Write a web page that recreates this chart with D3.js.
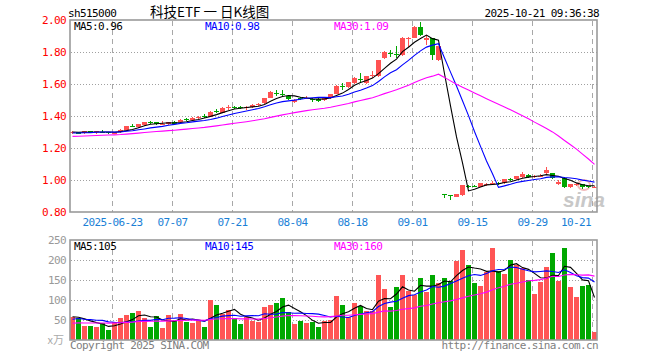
<!DOCTYPE html>
<html>
<head>
<meta charset="utf-8">
<script src="https://cdn.jsdelivr.net/npm/d3@7"></script>
<style>
body { margin: 0; background: #fff; }
svg { display: block; }
</style>
</head>
<body>
<svg id="chart" width="660" height="360"></svg>
<script>
// trading days shown on the chart (one candle each)
var days = [
	"2025-06-12","2025-06-13","2025-06-16","2025-06-17","2025-06-18","2025-06-19","2025-06-20","2025-06-23","2025-06-24","2025-06-25","2025-06-26","2025-06-27","2025-06-30",
	"2025-07-01","2025-07-02","2025-07-03","2025-07-04","2025-07-07","2025-07-08","2025-07-09","2025-07-10","2025-07-11","2025-07-14","2025-07-15","2025-07-16","2025-07-17","2025-07-18",
	"2025-07-21","2025-07-22","2025-07-23","2025-07-24","2025-07-25","2025-07-28","2025-07-29","2025-07-30","2025-07-31",
	"2025-08-01","2025-08-04","2025-08-05","2025-08-06","2025-08-07","2025-08-08","2025-08-11","2025-08-12","2025-08-13","2025-08-14","2025-08-15",
	"2025-08-18","2025-08-19","2025-08-20","2025-08-21","2025-08-22","2025-08-25","2025-08-26","2025-08-27","2025-08-28","2025-08-29",
	"2025-09-01","2025-09-02","2025-09-03","2025-09-04","2025-09-05","2025-09-08","2025-09-09","2025-09-10","2025-09-11","2025-09-12",
	"2025-09-15","2025-09-16","2025-09-17","2025-09-18","2025-09-19","2025-09-22","2025-09-23","2025-09-24","2025-09-25","2025-09-26","2025-09-29","2025-09-30",
	"2025-10-09","2025-10-10","2025-10-13","2025-10-14","2025-10-15","2025-10-16","2025-10-17","2025-10-20","2025-10-21"
];

var opens = [
	1.294,1.300,1.294,1.306,1.297,1.303,1.297,1.288,1.298,1.314,1.340,1.331,1.344,
	1.362,1.362,1.350,1.348,1.362,1.360,1.380,1.377,1.385,1.402,1.396,1.433,1.421,1.452,
	1.456,1.455,1.452,1.455,1.470,1.480,1.514,1.542,1.536,
	1.525,1.490,1.512,1.512,1.508,1.508,1.500,1.510,1.537,1.585,1.580,
	1.605,1.632,1.606,1.654,1.650,1.760,1.792,1.790,1.780,1.885,
	1.890,1.958,1.875,1.885,1.750,0.915,0.905,0.896,0.906,0.965,
	0.965,0.958,0.972,0.980,0.982,0.979,1.005,1.006,1.017,1.031,1.020,1.025,
	1.042,1.042,0.975,1.015,0.955,0.972,0.975,0.960,0.955
];
var highs = [
	1.306,1.302,1.308,1.308,1.308,1.312,1.300,1.300,1.316,1.340,1.348,1.350,1.365,
	1.367,1.365,1.366,1.365,1.366,1.381,1.385,1.392,1.398,1.410,1.430,1.444,1.455,1.467,
	1.460,1.462,1.462,1.472,1.482,1.513,1.555,1.562,1.560,
	1.530,1.505,1.520,1.522,1.512,1.510,1.512,1.540,1.592,1.604,1.612,
	1.642,1.667,1.652,1.680,1.752,1.805,1.810,1.835,1.892,1.892,
	1.960,1.990,1.905,1.888,1.840,0.915,0.906,0.915,0.970,0.970,
	0.968,0.980,0.980,0.995,0.990,1.008,1.015,1.027,1.047,1.035,1.030,1.035,
	1.082,1.045,1.003,1.020,0.978,0.980,0.978,0.965,0.960
];
var lows = [
	1.290,1.286,1.290,1.293,1.285,1.292,1.288,1.286,1.296,1.310,1.330,1.328,1.340,
	1.350,1.345,1.342,1.346,1.348,1.356,1.370,1.372,1.380,1.390,1.394,1.420,1.418,1.440,
	1.445,1.445,1.440,1.452,1.465,1.477,1.510,1.525,1.520,
	1.500,1.483,1.500,1.505,1.490,1.490,1.495,1.508,1.535,1.565,1.575,
	1.600,1.615,1.600,1.640,1.646,1.758,1.770,1.760,1.775,1.830,
	1.885,1.900,1.845,1.750,1.745,0.885,0.875,0.893,0.900,0.950,
	0.955,0.955,0.965,0.975,0.970,0.975,0.995,1.000,1.010,1.012,1.015,1.020,
	1.035,1.008,0.970,0.950,0.950,0.965,0.945,0.952,0.950
];
var closes = [
	1.302,1.290,1.306,1.296,1.306,1.301,1.293,1.298,1.314,1.337,1.337,1.348,1.362,
	1.360,1.352,1.353,1.362,1.352,1.378,1.377,1.390,1.395,1.400,1.427,1.431,1.452,1.455,
	1.453,1.452,1.456,1.470,1.474,1.510,1.552,1.540,1.534,
	1.504,1.500,1.510,1.515,1.505,1.496,1.510,1.537,1.590,1.582,1.610,
	1.640,1.628,1.650,1.657,1.750,1.802,1.789,1.780,1.890,1.888,
	1.958,1.906,1.885,1.780,1.838,0.912,0.903,0.912,0.969,0.962,
	0.962,0.979,0.975,0.983,0.980,1.006,1.003,1.025,1.040,1.017,1.024,1.028,
	1.060,1.012,0.990,0.958,0.975,0.975,0.955,0.958,0.958
];
// volume, in 万
var volumes = [
	58,56,35,35,33,42,25,44,56,62,68,73,54,
	33,60,31,62,47,65,46,43,49,33,100,87,65,74,
	56,40,57,48,46,83,87,92,105,
	69,40,48,43,46,33,48,50,110,87,57,
	92,86,72,72,162,127,82,132,162,122,
	112,156,121,162,142,156,147,198,225,187,
	142,135,169,230,172,165,200,187,181,150,115,145,
	182,217,147,230,132,107,135,137,20
];

// closes / volumes of the sessions before the first candle (only feed the moving averages)
var priorCloses = [
	1.262,1.258,1.255,1.248,1.252,1.260,1.265,1.258,1.250,1.245,
	1.252,1.256,1.262,1.268,1.270,1.265,1.272,1.276,1.280,1.284,
	1.288,1.290,1.284,1.282,1.290,1.296,1.300,1.304,1.298
];
var priorVolumes = [
	35,42,30,38,45,33,28,36,40,47,32,38,30,44,36,41,35,39,33,38,
	40,52,44,50,44,62,55,60,55
];

var tickDays = ["2025-06-23","2025-07-07","2025-07-21","2025-08-04","2025-08-18","2025-09-01","2025-09-15","2025-09-29","2025-10-21"];
var tickLabels = ["2025-06-23","07-07","07-21","08-04","08-18","09-01","09-15","09-29","10-21"];
var priceTicks = [0.8, 1.0, 1.2, 1.4, 1.6, 1.8, 2.0];
var volumeTicks = [50, 100, 150, 200, 250];

var priceMaLabels = ["MA5:0.96", "MA10:0.98", "MA30:1.09"];
var volumeMaLabels = ["MA5:105", "MA10:145", "MA30:160"];
var maPeriods = [5, 10, 30];
var maColors = ["#000000", "#0000ff", "#ff00ff"];

var upColor = "#ff5252", downColor = "#00a600";
var mono = "'DejaVu Sans Mono', monospace";

var svg = d3.select("#chart");

var x = d3.scaleBand().domain(days).range([69.5, 597.5]).paddingInner(1 / 6).paddingOuter(1 / 12);
var y = d3.scaleLinear().domain([0.8, 2.0]).range([212, 20]);
var yv = d3.scaleLinear().domain([0, 250]).range([340, 240]);

/**
 * moving average of vals, using the prior values for the first points
 */
var movingAvg = function (prior, vals, n) {
	var all = prior.concat(vals);
	return vals.map(function (v, i) {
		var end = prior.length + i;
		return d3.mean(all.slice(end - n + 1, end + 1));
	});
};

var monoText = function (sel, size) {
	return sel.style("font-family", mono).style("font-size", size + "px").style("letter-spacing", "-0.6px");
};

// header
monoText(svg.append("text").attr("x", 68).attr("y", 17).text("sh515000"), 11);
svg.append("text").attr("x", 150).attr("y", 17)
	.style("font-family", "'Noto Sans CJK SC', sans-serif").style("font-size", "13.5px")
	.text("科技ETF 一 日K线图");
monoText(svg.append("text").attr("x", 599).attr("y", 17).attr("text-anchor", "end").text("2025-10-21 09:36:38"), 11);

// grid for both panels
var panels = [{ top: 20, bottom: 212, scale: y, ticks: [1.0, 1.2, 1.4, 1.6, 1.8] },
	{ top: 240, bottom: 340, scale: yv, ticks: [50, 100, 150, 200] }];
panels.forEach(function (p) {
	var g = svg.append("g").attr("shape-rendering", "crispEdges");
	g.selectAll("line.h").data(p.ticks).enter().append("line")
		.attr("x1", 71).attr("x2", 597)
		.attr("y1", function (d) { return Math.round(p.scale(d)) + 0.5; })
		.attr("y2", function (d) { return Math.round(p.scale(d)) + 0.5; })
		.attr("stroke", "#a0a0a0").attr("stroke-dasharray", "1,2");
	g.selectAll("line.v").data(tickDays).enter().append("line")
		.attr("x1", function (d) { return x(d) + 0.5; })
		.attr("x2", function (d) { return x(d) + 0.5; })
		.attr("y1", p.top + 1).attr("y2", p.bottom)
		.attr("stroke", "#a8a8a8").attr("stroke-dasharray", "5,4");
});

// price axis (left, red labels)
var yAxis = svg.append("g").attr("transform", "translate(70,0)")
	.call(d3.axisLeft(y).tickValues(priceTicks).tickFormat(d3.format(".2f")).tickSize(0).tickPadding(4));
yAxis.select(".domain").remove();
yAxis.selectAll("text").attr("fill", "#ff0000").style("font-family", mono).style("font-size", "11px").style("letter-spacing", "-0.6px");

// volume axis
var vAxis = svg.append("g").attr("transform", "translate(70,0)")
	.call(d3.axisLeft(yv).tickValues(volumeTicks).tickSize(0).tickPadding(4));
vAxis.select(".domain").remove();
vAxis.selectAll("text").attr("fill", "#999").style("font-family", mono).style("font-size", "11px").style("letter-spacing", "-0.6px");
svg.append("text").attr("x", 64).attr("y", 344).attr("text-anchor", "end")
	.attr("fill", "#aaa").style("font-family", "'Noto Sans CJK SC', sans-serif").style("font-size", "11px").text("x万");

// date labels
var dateLabels = svg.append("g");
tickDays.forEach(function (d, i) {
	var t = monoText(dateLabels.append("text"), 11)
		.attr("x", x(d) + 0.5).attr("y", 226).attr("fill", "#1a7fd6")
		.attr("text-anchor", "middle").text(tickLabels[i]);
	var w = t.node().getComputedTextLength();
	if (x(d) + w / 2 > 597) {
		t.attr("text-anchor", "end").attr("x", x(d) - 1);
	}
});

// watermark
svg.append("ellipse").attr("cx", 584).attr("cy", 185).attr("rx", 6).attr("ry", 5)
	.attr("fill", "none").attr("stroke", "#f2b8b8").attr("stroke-width", 2);
svg.append("text").attr("x", 563).attr("y", 207)
	.attr("fill", "#c8c8c8").style("font-family", "'Liberation Sans', sans-serif")
	.style("font-size", "21px").style("font-style", "italic").style("font-weight", "bold").text("sina");

// candles
var candles = svg.append("g").attr("shape-rendering", "crispEdges");
days.forEach(function (d, i) {
	var col = closes[i] >= opens[i] ? upColor : downColor;
	candles.append("line")
		.attr("x1", x(d) + 2.5).attr("x2", x(d) + 2.5)
		.attr("y1", y(highs[i])).attr("y2", y(lows[i]))
		.attr("stroke", col);
	var top = Math.round(y(Math.max(opens[i], closes[i])));
	var bot = Math.round(y(Math.min(opens[i], closes[i])));
	candles.append("rect")
		.attr("x", x(d)).attr("width", x.bandwidth())
		.attr("y", top).attr("height", Math.max(1, bot - top))
		.attr("fill", col);
});

// volume bars
svg.append("g").attr("shape-rendering", "crispEdges")
	.selectAll("rect").data(days).enter().append("rect")
	.attr("x", function (d) { return x(d); })
	.attr("width", x.bandwidth())
	.attr("y", function (d, i) { return yv(volumes[i]); })
	.attr("height", function (d, i) { return yv(0) - yv(volumes[i]); })
	.attr("fill", function (d, i) { return closes[i] >= opens[i] ? "#ff5555" : "#00a800"; });

// moving average lines
var drawMa = function (prior, vals, scale) {
	maPeriods.forEach(function (n, k) {
		var ma = movingAvg(prior, vals, n);
		var line = d3.line()
			.x(function (v, i) { return x(days[i]) + 2.5; })
			.y(function (v) { return scale(v); });
		svg.append("path").datum(ma).attr("d", line)
			.attr("fill", "none").attr("stroke", maColors[k]).attr("stroke-width", 1.1);
	});
};
drawMa(priorCloses, closes, y);
drawMa(priorVolumes, volumes, yv);

// panel frames
svg.append("rect").attr("x", 70).attr("y", 20).attr("width", 527).attr("height", 192)
	.attr("fill", "none").attr("stroke", "#9a9a9a").attr("stroke-width", 1.6);
svg.append("rect").attr("x", 70).attr("y", 240).attr("width", 527).attr("height", 100)
	.attr("fill", "none").attr("stroke", "#9a9a9a").attr("stroke-width", 1.6);

// MA legends
var legendX = [74, 205, 334];
priceMaLabels.forEach(function (s, k) {
	monoText(svg.append("text"), 11).attr("x", legendX[k]).attr("y", 30).attr("fill", maColors[k]).text(s);
});
volumeMaLabels.forEach(function (s, k) {
	monoText(svg.append("text"), 11).attr("x", legendX[k]).attr("y", 250).attr("fill", maColors[k]).text(s);
});

// footer
monoText(svg.append("text").attr("x", 70).attr("y", 349).attr("fill", "#808080").text("Copyright 2025 SINA.COM"), 11);
monoText(svg.append("text").attr("x", 598).attr("y", 349).attr("text-anchor", "end").attr("fill", "#808080").text("http://finance.sina.com.cn"), 11);
</script>
</body>
</html>
